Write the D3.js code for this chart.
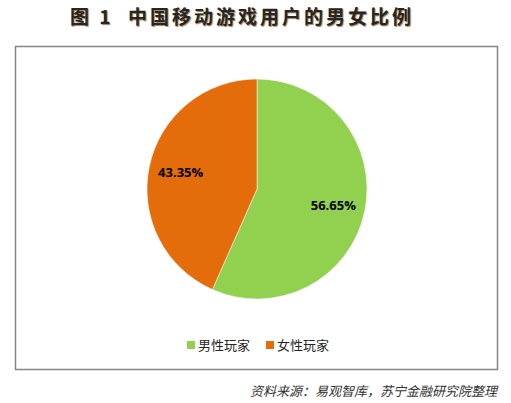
<!DOCTYPE html>
<html><head><meta charset="utf-8">
<script src="https://cdn.jsdelivr.net/npm/d3@7"></script>
<style>
body{margin:0;background:#fff;}
svg{display:block;font-family:"Microsoft YaHei","Noto Sans CJK SC",sans-serif;}
</style></head>
<body>
<script>
const categories = ["男性玩家", "女性玩家"];
const values = [56.65, 43.35];
const colors = ["#92D050", "#E46C0A"];
const titleText = "图 1  中国移动游戏用户的男女比例";
const sourceText = "资料来源：易观智库，苏宁金融研究院整理";

const W = 511, H = 403;
const svg = d3.select("body").append("svg").attr("width", W).attr("height", H);

svg.append("text").attr("x", 242).attr("y", 24).attr("text-anchor", "middle")
  .attr("font-size", 19).attr("font-weight", "bold").attr("fill", "#262626")
  .attr("letter-spacing", 3)
  .style("white-space", "pre")
  .style("text-shadow", "1px 1px 1px #a08060")
  .text(titleText);

svg.append("rect").attr("x", 15.5).attr("y", 46.5).attr("width", 482).attr("height", 323)
  .attr("fill", "#fff").attr("stroke", "#868686").attr("stroke-width", 1.5);

const cx = 257, cy = 189, r = 110;
const pie = d3.pie().sort(null).value(d => d)(values);
const arc = d3.arc().innerRadius(0).outerRadius(r);
const labelArc = d3.arc().innerRadius(78).outerRadius(78);
const g = svg.append("g").attr("transform", `translate(${cx},${cy})`);
g.selectAll("path").data(pie).join("path").attr("d", arc).attr("fill", (d, i) => colors[i])
  .attr("stroke", "#fff").attr("stroke-width", 0.5);
g.selectAll("text").data(pie).join("text")
  .attr("transform", d => { const c = labelArc.centroid(d); return `translate(${c[0]},${c[1]})`; })
  .attr("text-anchor", "middle").attr("dy", "0.35em")
  .attr("font-size", 13).attr("font-weight", "bold").attr("fill", "#000")
  .attr("font-family", "'Open Sans', Lato, sans-serif")
  .text(d => d.data.toFixed(2) + "%");

const lg = svg.append("g");
const lx = [187, 266];
categories.forEach((c, i) => {
  lg.append("rect").attr("x", lx[i]).attr("y", 341).attr("width", 8).attr("height", 8).attr("fill", colors[i]);
  lg.append("text").attr("x", lx[i] + 11).attr("y", 350).attr("font-size", 13).attr("fill", "#262626").text(c);
});

svg.append("text").attr("x", 497).attr("y", 396).attr("text-anchor", "end")
  .attr("font-size", 13).attr("font-style", "italic").attr("fill", "#333").text(sourceText);
</script>
</body></html>
